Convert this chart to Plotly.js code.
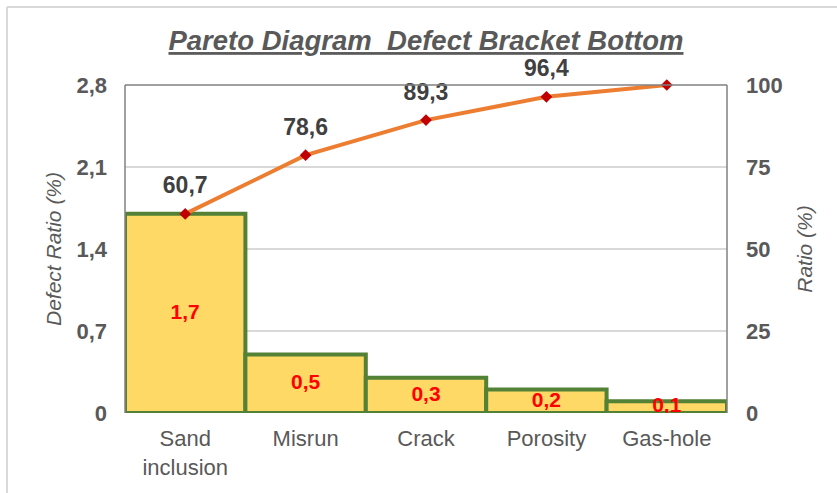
<!DOCTYPE html>
<html>
<head>
<meta charset="utf-8">
<script src="https://cdn.plot.ly/plotly-3.0.1.min.js"></script>
<style>html,body{margin:0;padding:0;background:#fff;}#chart{width:837px;height:493px;}</style>
</head>
<body>
<div id="chart"></div>
<script>
const categories = ["Sand<br>inclusion", "Misrun", "Crack", "Porosity", "Gas-hole"];
const defectRatio = [1.7, 0.5, 0.3, 0.2, 0.1];
const defectLabels = ["1,7", "0,5", "0,3", "0,2", "0,1"];
const cumulative = [60.7, 78.6, 89.3, 96.4, 100];
const cumulativeLabels = ["60,7", "78,6", "89,3", "96,4", ""];
const leftTicks = [0, 0.7, 1.4, 2.1, 2.8];
const leftTickText = ["0", "0,7", "1,4", "2,1", "2,8"];
const rightTicks = [0, 25, 50, 75, 100];

const W = 837, H = 493;
const m = {l: 125, r: 110, t: 85, b: 80};
const pw = W - m.l - m.r, ph = H - m.t - m.b;
const px = v => (v - m.l) / pw;
const py = v => (H - m.b - v) / ph;

const gray = "#595959";
const font = "Liberation Sans, Arial, sans-serif";

const traces = [
  {
    type: "bar", x: categories, y: defectRatio,
    marker: {color: "#FFD966", line: {color: "#538135", width: 4}},
    hoverinfo: "none", yaxis: "y"
  },
  {
    type: "scatter", mode: "text", x: categories,
    y: defectRatio.map(v => v / 2),
    text: defectLabels, textposition: "middle center",
    textfont: {family: font, size: 21, color: "#FF0000", weight: "bold"},
    hoverinfo: "none", yaxis: "y"
  },
  {
    type: "scatter", mode: "lines+markers", x: categories, y: cumulative,
    line: {color: "#ED7D31", width: 4},
    marker: {symbol: "diamond", size: 9, color: "#C00000"},
    yaxis: "y2", cliponaxis: false, hoverinfo: "none"
  },
  {
    type: "scatter", mode: "markers+text", x: categories, y: cumulative,
    marker: {size: 22, color: "rgba(0,0,0,0)"},
    text: cumulativeLabels, textposition: "top center",
    textfont: {family: font, size: 23, color: "#404040", weight: "bold"},
    yaxis: "y2", cliponaxis: false, hoverinfo: "none"
  }
];

const layout = {
  width: W, height: H,
  margin: m,
  paper_bgcolor: "#fff", plot_bgcolor: "#fff",
  showlegend: false,
  separators: ", ",
  bargap: 0,
  font: {family: font, color: gray},
  title: {
    text: "<i><b><u>Pareto Diagram  Defect Bracket Bottom</u></b></i>",
    font: {family: font, size: 27.5, color: gray},
    x: 0.5, xref: "paper", xanchor: "center", y: 0.918, yanchor: "middle"
  },
  xaxis: {
    showgrid: false, zeroline: false, showline: false, ticks: "",
    tickfont: {family: font, size: 22, color: gray},
    ticklabelstandoff: 10,
    fixedrange: true
  },
  yaxis: {
    range: [0, 2.8], tickvals: leftTicks, ticktext: leftTickText,
    showgrid: true, gridcolor: "#D9D9D9", gridwidth: 2,
    zeroline: false, showline: false, ticks: "",
    tickfont: {family: font, size: 22, color: gray, weight: "bold"},
    ticklabelstandoff: 17,
    title: {text: "<i>Defect Ratio (%)</i>", font: {family: font, size: 21, color: gray}, standoff: 9}
  },
  yaxis2: {
    overlaying: "y", side: "right", range: [0, 100], tickvals: rightTicks,
    showgrid: false, zeroline: false, showline: false, ticks: "",
    tickfont: {family: font, size: 22, color: gray, weight: "bold"},
    ticklabelstandoff: 18,
    title: {text: "<i>Ratio (%)</i>", font: {family: font, size: 21, color: gray}, standoff: 15}
  },
  shapes: [
    {type: "line", xref: "paper", yref: "paper", x0: 0, x1: 0, y0: 0, y1: 1, line: {color: "#808080", width: 1.5}},
    {type: "line", xref: "paper", yref: "paper", x0: 0, x1: 1, y0: 1, y1: 1, line: {color: "#808080", width: 1.5}},
    {type: "line", xref: "paper", yref: "paper", x0: 1, x1: 1, y0: 0, y1: 1, line: {color: "#808080", width: 1.5}},
    {type: "line", xref: "paper", yref: "paper", x0: px(7), x1: px(837), y0: py(7), y1: py(7), line: {color: "#D9D9D9", width: 2}},
    {type: "line", xref: "paper", yref: "paper", x0: px(7), x1: px(7), y0: py(7), y1: py(493), line: {color: "#D9D9D9", width: 2}}
  ]
};

Plotly.newPlot("chart", traces, layout, {displayModeBar: false, staticPlot: true});
</script>
</body>
</html>
